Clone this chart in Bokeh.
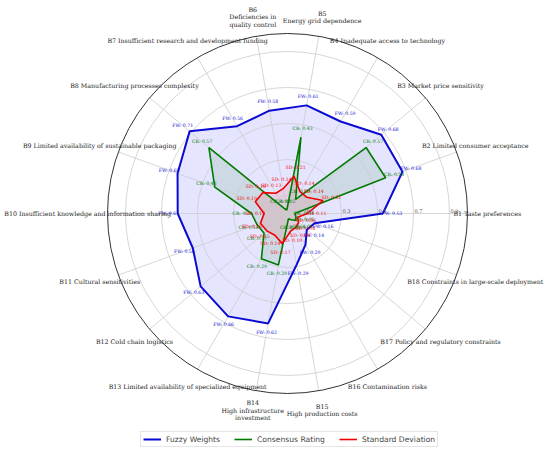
import numpy as np
from bokeh.plotting import figure
from bokeh.models import Range1d, Legend, LegendItem, ColumnDataSource
from bokeh.core.properties import value
from bokeh.embed import file_html
from bokeh.resources import INLINE

categories = [
    "B1 Taste preferences",
    "B2 Limited consumer acceptance",
    "B3 Market price sensitivity",
    "B4 Inadequate access to technology",
    "B5\nEnergy grid dependence",
    "B6\nDeficiencies in\nquality control",
    "B7 Insufficient research and development funding",
    "B8 Manufacturing processes complexity",
    "B9 Limited availability of sustainable packaging",
    "B10 Insufficient knowledge and information sharing",
    "B11 Cultural sensitivities",
    "B12 Cold chain logistics",
    "B13 Limited availability of specialized equipment",
    "B14\nHigh infrastructure\ninvestment",
    "B15\nHigh production costs",
    "B16 Contamination risks",
    "B17 Policy and regulatory constraints",
    "B18 Constraints in large-scale deployment",
]
fuzzy_weights = [0.53, 0.68, 0.68, 0.59, 0.61, 0.58, 0.56, 0.71, 0.65, 0.61,
                 0.56, 0.63, 0.66, 0.62, 0.29, 0.20, 0.14, 0.16]
consensus_rating = [0.04, 0.58, 0.57, 0.09, 0.43, 0.02, 0.03, 0.57, 0.43, 0.20,
                    0.18, 0.17, 0.29, 0.29, 0.03, 0.04, 0.06, 0.05]
standard_deviation = [0.11, 0.21, 0.14, 0.14, 0.21, 0.14, 0.13, 0.18, 0.19, 0.13,
                      0.16, 0.15, 0.14, 0.17, 0.10, 0.09, 0.08, 0.06]
radial_ticks = [0.1, 0.3, 0.5, 0.7, 0.9]
radial_tick_labels = ["0.1", "0.3", "0.5", "0.7", "0.9"]
series_names = ["Fuzzy Weights", "Consensus Rating", "Standard Deviation"]
series_prefix = ["FW", "CR", "SD"]

W, H = 550, 453
CX, CY = 287, 213      # centre in canvas px
R = 180.0              # px for value 1.0

p = figure(width=W, height=H, output_backend="svg", toolbar_location=None,
           x_range=Range1d(-CX / R, (W - CX) / R),
           y_range=Range1d(-(H - CY) / R, CY / R),
           min_border=0, outline_line_color=None)
p.axis.visible = False
p.grid.visible = False

n = len(categories)
ang = np.deg2rad(np.arange(n) * 360.0 / n)

colors = ["#0a0ad2", "#007a00", "#f00000"]
fills = ["blue", "green", "red"]
widths = [2.0, 1.6, 1.6]
data = [fuzzy_weights, consensus_rating, standard_deviation]

# fills
for vals, fc in zip(data, fills):
    v = np.array(vals)
    p.patch(v * np.cos(ang), v * np.sin(ang), fill_color=fc, fill_alpha=0.1,
            line_color=None)

# grid
p.circle(x=[0] * len(radial_ticks), y=[0] * len(radial_ticks), radius=radial_ticks,
         fill_color=None, line_color="#cccccc", line_width=0.8)
p.multi_line(xs=[[0, np.cos(a)] for a in ang], ys=[[0, np.sin(a)] for a in ang],
             line_color="#cccccc", line_width=0.8)
p.circle(x=[0], y=[0], radius=[1.0], fill_color=None, line_color="#333333",
         line_width=1.0)

# lines
renderers = []
for vals, c, w in zip(data, colors, widths):
    v = np.array(list(vals) + [vals[0]])
    a = np.append(ang, ang[0])
    r = p.line(v * np.cos(a), v * np.sin(a), line_color=c, line_width=w)
    renderers.append(r)

# value labels
for vals, c, pre in zip(data, colors, series_prefix):
    v = np.array(vals) + 0.05
    src = ColumnDataSource(dict(x=v * np.cos(ang), y=v * np.sin(ang),
                                t=[f"{pre}: {x:.2f}" for x in vals]))
    p.text(x="x", y="y", text="t", source=src, text_color=c,
           text_font=value("DejaVu Serif"), text_font_size="4.6px",
           text_align="center", text_baseline="middle")

# radial tick labels
p.text(x=[t + 0.005 for t in radial_ticks], y=[0.012] * len(radial_ticks),
       text=radial_tick_labels, text_color="#555555",
       text_font=value("DejaVu Serif"), text_font_size="5px",
       text_align="left", text_baseline="middle")

# category labels (multi-line ones split into separate lines)
rl = 1.11
line_step = 7.4 / R
lx, ly, lt = [], [], []
for cat, a in zip(categories, ang):
    parts = cat.split("\n")
    k = len(parts)
    for i, part in enumerate(parts):
        lx.append(rl * np.cos(a))
        ly.append(rl * np.sin(a) + ((k - 1) / 2.0 - i) * line_step)
        lt.append(part)
p.text(x=lx, y=ly, text=lt,
       text_color="#222222", text_font=value("DejaVu Serif"),
       text_font_size="6.3px", text_align="center", text_baseline="middle")

legend = Legend(items=[LegendItem(label=nm, renderers=[r])
                       for nm, r in zip(series_names, renderers)],
                orientation="horizontal", location=(140, 6),
                label_text_font="DejaVu Sans", label_text_font_size="7.6px",
                glyph_width=18, glyph_height=10, label_height=10,
                label_standoff=5, spacing=14, padding=2, margin=0,
                border_line_color="#cccccc", border_line_width=1,
                background_fill_alpha=1.0)
p.add_layout(legend)

open("out.html", "w").write(file_html(p, INLINE))
